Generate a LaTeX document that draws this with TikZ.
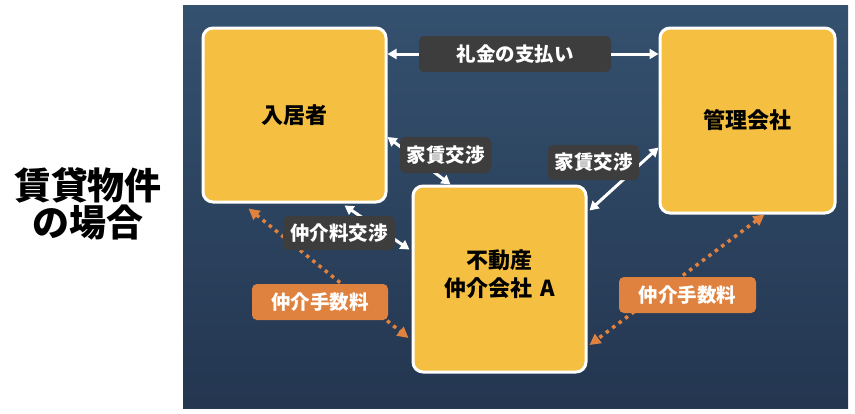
\documentclass[tikz,border=0pt]{standalone}
\usepackage{fontspec}
\setmainfont{Noto Sans CJK JP}
\usetikzlibrary{arrows.meta,calc}
\definecolor{boxyellow}{HTML}{F5BF41}
\definecolor{lblgray}{HTML}{3D3D3D}
\definecolor{lblorange}{HTML}{E0823F}
\definecolor{paneltop}{HTML}{34516F}
\definecolor{panelbot}{HTML}{243650}
\tikzset{
  party/.style={draw=white, line width=3pt, fill=boxyellow, rounded corners=10pt,
    font=\fontsize{22}{28}\selectfont\bfseries, text=black, align=center, inner sep=0pt},
  graylbl/.style={fill=lblgray, rounded corners=5pt, text=white, inner sep=0pt,
    font=\fontsize{19.5}{22}\selectfont\bfseries},
  orangelbl/.style={fill=lblorange, rounded corners=5pt, text=white, inner sep=0pt,
    font=\fontsize{19.5}{22}\selectfont\bfseries},
  warrow/.style={draw=white, line width=3pt, {Triangle[length=9pt,width=10pt]}-{Triangle[length=9pt,width=10pt]}},
  warrowr/.style={draw=white, line width=3pt, -{Triangle[length=9pt,width=10pt]}},
  oarrow/.style={draw=lblorange, line width=3.5pt, dash pattern=on 3.5pt off 4.5pt,
    {Triangle[length=11pt,width=11pt]}-{Triangle[length=11pt,width=11pt]}}
}
\begin{document}
\begin{tikzpicture}[x=1pt,y=-1pt]
\useasboundingbox (0,0) rectangle (855,413);
\fill[white] (0,0) rectangle (855,413);
\shade[top color=paneltop, bottom color=panelbot] (183,5) rectangle (848,408);

\node[font=\fontsize{37}{37}\selectfont\bfseries, align=center] (title) at (88,204) {賃貸物件\\の場合};

\node[party, minimum width=183pt, minimum height=174pt] (res) at (294.5,115) {入居者};
\node[party, minimum width=175pt, minimum height=185pt] (mgr) at (747.5,120.5) {管理会社};
\node[party, minimum width=173pt, minimum height=186pt] (agent) at (499.5,279) {};
\node[font=\fontsize{22}{28}\selectfont\bfseries, align=center] (agenttext) at ($(agent.center)+(0,-5)$) {不動産\\仲介会社\hspace{0.35em}A};

\node[graylbl, minimum width=192pt, minimum height=36pt] (reiki) at (515,54) {礼金の支払い};

\draw[warrowr] (reiki.west) -- (reiki.west -| res.east);
\draw[warrowr] (reiki.east) -- (reiki.east -| mgr.west);

\coordinate (y1a) at ($(res.east)+(0,22)$);
\coordinate (y1b) at ($(agent.north west)+(39,0)$);
\draw[warrow] (y1a) -- (y1b);
\coordinate (y2a) at ($(agent.north east)+(2,26)$);
\coordinate (y2b) at ($(mgr.west)+(0,27)$);
\draw[warrow] (y2a) -- (y2b);
\coordinate (c1a) at ($(res.south)+(50,2)$);
\coordinate (c1b) at ($(agent.north west)+(-2,65)$);
\draw[warrow] (c1a) -- (c1b);
\coordinate (t1a) at ($(res.south west)+(47,5)$);
\coordinate (t1b) at ($(agent.west)+(-3,59)$);
\draw[oarrow] (t1a) -- (t1b);
\coordinate (t2a) at ($(mgr.south)+(17,0)$);
\coordinate (t2b) at ($(agent.east)+(2,66)$);
\draw[oarrow] (t2a) -- (t2b);

\node[graylbl, minimum width=91pt, minimum height=36pt] (yachin1) at (445.5,155) {家賃交渉};
\node[graylbl, minimum width=91pt, minimum height=35pt] (yachin2) at (593.5,162.5) {家賃交渉};
\node[graylbl, minimum width=112pt, minimum height=34pt] (chukai) at (339,233) {仲介料交渉};
\node[orangelbl, minimum width=136pt, minimum height=36pt] (fee1) at (320,302) {仲介手数料};
\node[orangelbl, minimum width=137pt, minimum height=36pt] (fee2) at (687.5,295) {仲介手数料};
\end{tikzpicture}
\end{document}
